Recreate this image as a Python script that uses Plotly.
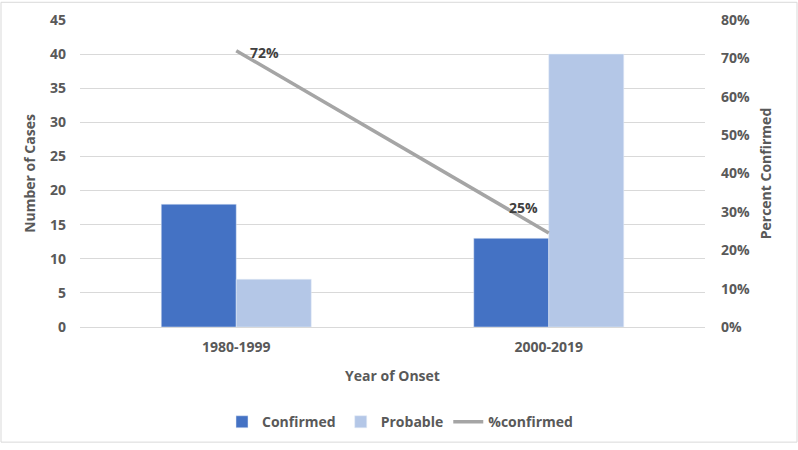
import plotly.graph_objects as go

categories = ["1980-1999", "2000-2019"]
confirmed = [18, 13]
probable = [7, 40]
pct_confirmed = [0.72, 0.245]
pct_labels = ["72%", "25%"]

font_family = "Open Sans"
gray_txt = "#595959"

fig = go.Figure()
fig.add_trace(go.Bar(x=categories, y=confirmed, name="Confirmed", marker_color="#4472C4"))
fig.add_trace(go.Bar(x=categories, y=probable, name="Probable", marker_color="#B4C7E7"))
fig.add_trace(go.Scatter(
    x=categories, y=pct_confirmed, name="%confirmed", yaxis="y2", mode="lines",
    line=dict(color="#A5A5A5", width=3.5),
))

label_shifts = [(28, -2), (-25, 25)]
for cat, val, lab, (dx, dy) in zip(categories, pct_confirmed, pct_labels, label_shifts):
    fig.add_annotation(x=cat, y=val, xref="x", yref="y2", text=lab, showarrow=False,
                       xshift=dx, yshift=dy,
                       font=dict(family=font_family, size=14, color="#404040", weight="bold"))

fig.update_layout(
    width=798, height=450,
    margin=dict(l=80, r=93, t=20, b=118),
    paper_bgcolor="white", plot_bgcolor="white",
    barmode="group", bargap=0.52, bargroupgap=0,
    font=dict(family=font_family, color=gray_txt, size=12),
    xaxis=dict(
        automargin=False,
        title=dict(text="Year of Onset", font=dict(size=14, weight="bold", color=gray_txt), standoff=16),
        tickfont=dict(size=14, weight="bold", color=gray_txt),
        showline=True, linecolor="#D9D9D9", linewidth=1, ticks="", ticklabelstandoff=7,
    ),
    yaxis=dict(
        automargin=False,
        range=[0, 45], dtick=5, showgrid=True, gridcolor="#D9D9D9", zeroline=False,
        title=dict(text="Number of Cases", font=dict(size=14, weight="bold", color=gray_txt), standoff=11),
        tickfont=dict(size=14, weight="bold", color=gray_txt), ticks="", ticklabelstandoff=13,
    ),
    yaxis2=dict(
        automargin=False,
        range=[0, 0.8], dtick=0.1, tickformat=".0%", overlaying="y", side="right",
        showgrid=False, zeroline=False,
        title=dict(text="Percent Confirmed", font=dict(size=14, weight="bold", color=gray_txt), standoff=12),
        tickfont=dict(size=14, weight="bold", color=gray_txt), ticks="", ticklabelstandoff=15,
    ),
    legend=dict(
        orientation="h", x=0.512, xanchor="center", y=-0.31, yanchor="middle",
        font=dict(size=14, weight="bold", color=gray_txt), traceorder="normal",
    ),
    showlegend=True,
    shapes=[dict(type="rect", xref="paper", yref="paper",
                 x0=-0.1264, x1=1.1472, y0=-0.375, y1=1.0577,
                 line=dict(color="#D9D9D9", width=1), layer="below")],
)

fig.write_html("out.html", config={"displayModeBar": False},
               post_script="document.body.style.margin='0';")
